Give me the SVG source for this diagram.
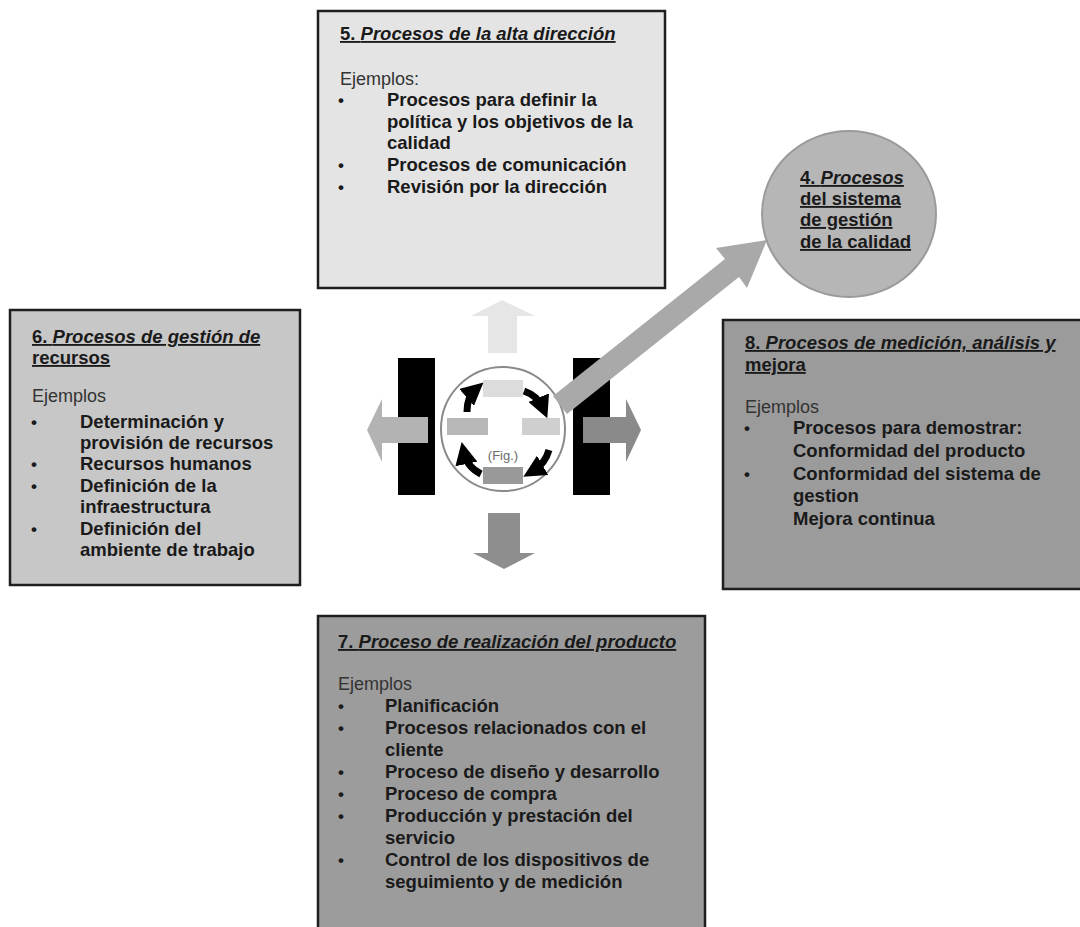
<svg xmlns="http://www.w3.org/2000/svg" width="1080" height="927" viewBox="0 0 1080 927">
<defs>
<style>
.box{stroke:#1e1e1e;stroke-width:2.5}
.t{font-family:"Liberation Sans",Arial,sans-serif;fill:#1a1a1a}
.ti{font-size:18.5px;font-weight:bold;text-decoration:underline}
.ex{font-size:18px;fill:#333}
.it{font-size:18.5px;font-weight:bold}
.bul{font-size:17px;font-weight:bold}
</style>
<marker id="ah" viewBox="0 0 10 10" refX="5" refY="5" markerWidth="3.2" markerHeight="3.2" orient="auto" markerUnits="strokeWidth">
<path d="M0,0 L10,5 L0,10 Z" fill="#000"/>
</marker>
</defs>
<rect width="1080" height="927" fill="#fff"/>

<g id="connectors">
<polygon points="488,353 488,316 471,316 502,300 535,316 517,316 517,353" fill="#e6e6e6"/>
<polygon points="488,513 520,513 520,553 535,553 504,569 473,553 488,553" fill="#8e8e8e"/>
</g>

<g id="center-figure">
<rect x="398" y="358" width="37" height="137" fill="#000"/>
<rect x="573" y="358" width="37" height="137" fill="#000"/>
<polygon points="428,417 428,443 382,443 382,462 367,430 382,399 382,417" fill="#b3b3b3"/>
<polygon points="583,417 626,417 626,399 641,430 626,462 626,443 583,443" fill="#8a8a8a"/>
<circle cx="503" cy="429" r="62" fill="#fff" stroke="#8a8a8a" stroke-width="2"/>
<rect x="483" y="380" width="40" height="17" fill="#dcdcdc"/>
<rect x="447" y="418" width="41" height="17" fill="#b8b8b8"/>
<rect x="522" y="418" width="38" height="17" fill="#cfcfcf"/>
<rect x="483" y="467" width="40" height="17" fill="#999"/>
<g fill="none" stroke="#000" stroke-width="7" marker-end="url(#ah)">
<path d="M467,412 Q467,397 475,390"/>
<path d="M524,391 Q538,396 543,408"/>
<path d="M549,450 Q545,464 533,471"/>
<path d="M481,474 Q467,467 464,453"/>
</g>
<text x="503" y="460" text-anchor="middle" font-family="Liberation Sans, Arial, sans-serif" font-size="13" fill="#6a6a6a">(Fig.)</text>
</g>

<g id="connectors-diag">
<polygon points="553,396 725,259 716,248 767,240 747,288 739,277 567,414" fill="#a9a9a9"/>
</g>

<g id="node5">
<rect x="318" y="11" width="347" height="277" fill="#e4e4e4" class="box"/>
<text class="t ti" x="340" y="40">5. <tspan font-style="italic">Procesos de la alta dirección</tspan></text>
<text class="t ex" x="340" y="85">Ejemplos:</text>
<g class="t bul"><text x="338" y="106">•</text><text x="338" y="171">•</text><text x="338" y="193">•</text></g>
<g class="t it">
<text x="387" y="106">Procesos para definir la</text>
<text x="387" y="128">política y los objetivos de la</text>
<text x="387" y="149">calidad</text>
<text x="387" y="171">Procesos de comunicación</text>
<text x="387" y="193">Revisión por la dirección</text>
</g>
</g>

<g id="node4">
<ellipse cx="849" cy="214" rx="87" ry="83" fill="#b6b6b6" stroke="#9a9a9a" stroke-width="2"/>
<g class="t ti">
<text x="800" y="184">4. <tspan font-style="italic">Procesos</tspan></text>
<text x="800" y="205">del sistema</text>
<text x="800" y="226">de gestión</text>
<text x="800" y="248">de la calidad</text>
</g>
</g>

<g id="node6">
<rect x="10" y="310" width="290" height="275" fill="#c7c7c7" class="box"/>
<text class="t ti" x="32" y="343">6. <tspan font-style="italic">Procesos de gestión de</tspan></text>
<text class="t ti" x="32" y="364">recursos</text>
<text class="t ex" x="32" y="402">Ejemplos</text>
<g class="t bul"><text x="31" y="428">•</text><text x="31" y="470">•</text><text x="31" y="492">•</text><text x="31" y="535">•</text></g>
<g class="t it">
<text x="80" y="428">Determinación y</text>
<text x="80" y="449">provisión de recursos</text>
<text x="80" y="470">Recursos humanos</text>
<text x="80" y="492">Definición de la</text>
<text x="80" y="513">infraestructura</text>
<text x="80" y="535">Definición del</text>
<text x="80" y="556">ambiente de trabajo</text>
</g>
</g>

<g id="node8">
<rect x="723" y="320" width="362" height="269" fill="#9b9b9b" class="box"/>
<text class="t ti" x="745" y="349">8. <tspan font-style="italic">Procesos de medición, análisis y</tspan></text>
<text class="t ti" x="745" y="371">mejora</text>
<text class="t ex" x="745" y="413">Ejemplos</text>
<g class="t bul"><text x="744" y="434">•</text><text x="744" y="480">•</text></g>
<g class="t it">
<text x="793" y="434">Procesos para demostrar:</text>
<text x="793" y="457">Conformidad del producto</text>
<text x="793" y="480">Conformidad del sistema de</text>
<text x="793" y="502">gestion</text>
<text x="793" y="525">Mejora continua</text>
</g>
</g>

<g id="node7">
<rect x="318" y="616" width="387" height="320" fill="#9c9c9c" class="box"/>
<text class="t ti" x="338" y="648">7. <tspan font-style="italic">Proceso de realización del producto</tspan></text>
<text class="t ex" x="338" y="690">Ejemplos</text>
<g class="t bul"><text x="338" y="712">•</text><text x="338" y="734">•</text><text x="338" y="778">•</text><text x="338" y="800">•</text><text x="338" y="822">•</text><text x="338" y="866">•</text></g>
<g class="t it">
<text x="385" y="712">Planificación</text>
<text x="385" y="734">Procesos relacionados con el</text>
<text x="385" y="756">cliente</text>
<text x="385" y="778">Proceso de diseño y desarrollo</text>
<text x="385" y="800">Proceso de compra</text>
<text x="385" y="822">Producción y prestación del</text>
<text x="385" y="844">servicio</text>
<text x="385" y="866">Control de los dispositivos de</text>
<text x="385" y="888">seguimiento y de medición</text>
</g>
</g>
</svg>
